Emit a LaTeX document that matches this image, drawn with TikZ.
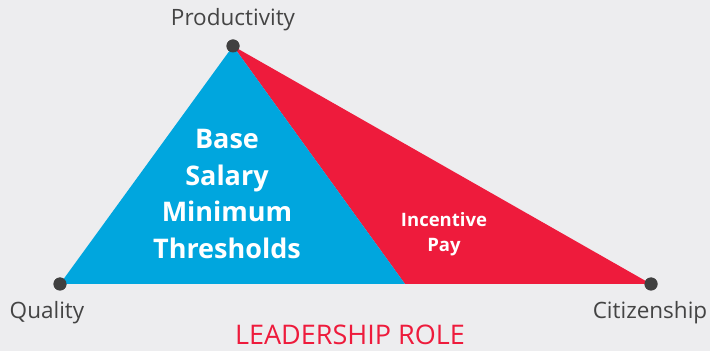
\documentclass[tikz,border=0pt]{standalone}
\usepackage{fontspec}
\setmainfont{Open Sans}
\usepackage{tikz}
\usetikzlibrary{positioning}
\definecolor{bgGray}{HTML}{EDEDEF}
\definecolor{baseBlue}{HTML}{00A6DE}
\definecolor{payRed}{HTML}{EE1B3C}
\definecolor{dotGray}{HTML}{404040}
\definecolor{textGray}{HTML}{444444}
\begin{document}
\begin{tikzpicture}[x=1pt,y=1pt,
  vertex/.style={circle,fill=dotGray,inner sep=0pt,minimum size=13pt},
  corner/.style={font=\fontsize{22.5}{26}\selectfont,text=textGray,inner sep=0pt},
  inlabel/.style={text=white,align=center,inner sep=0pt}]
  % Boundary
  \fill[bgGray] (0,0) rectangle (710,351);
  \useasboundingbox (0,0) rectangle (710,351);
  % Corners
  \coordinate (split) at (405,67);
  \node[vertex] (prod) at (233,305) {};
  \node[vertex] (qual) at (60,67) {};
  \node[vertex] (citi) at (651,67) {};
  % Triangles
  \fill[payRed] (prod.center) -- (split) -- (citi.center) -- cycle;
  \fill[baseBlue] (prod.center) -- (qual.center) -- (split) -- cycle;
  \node[vertex] at (prod) {};
  \node[vertex] at (qual) {};
  \node[vertex] at (citi) {};
  % Labels
  \node[corner] (prodlabel) at (233,331) {Productivity};
  \node[corner] (quallabel) at (47,38) {Quality};
  \node[corner] (citilabel) at (650,38) {Citizenship};
  \node[font=\fontsize{27}{30}\selectfont,text=payRed,inner sep=0pt] (role) at (350,16) {LEADERSHIP ROLE};
  \node[inlabel,font=\bfseries\fontsize{27}{36.5}\selectfont] (base) at (227,157) {Base\\Salary\\Minimum\\Thresholds};
  \node[inlabel,font=\bfseries\fontsize{18.5}{25}\selectfont] (pay) at (444,117) {Incentive\\Pay};
\end{tikzpicture}
\end{document}
